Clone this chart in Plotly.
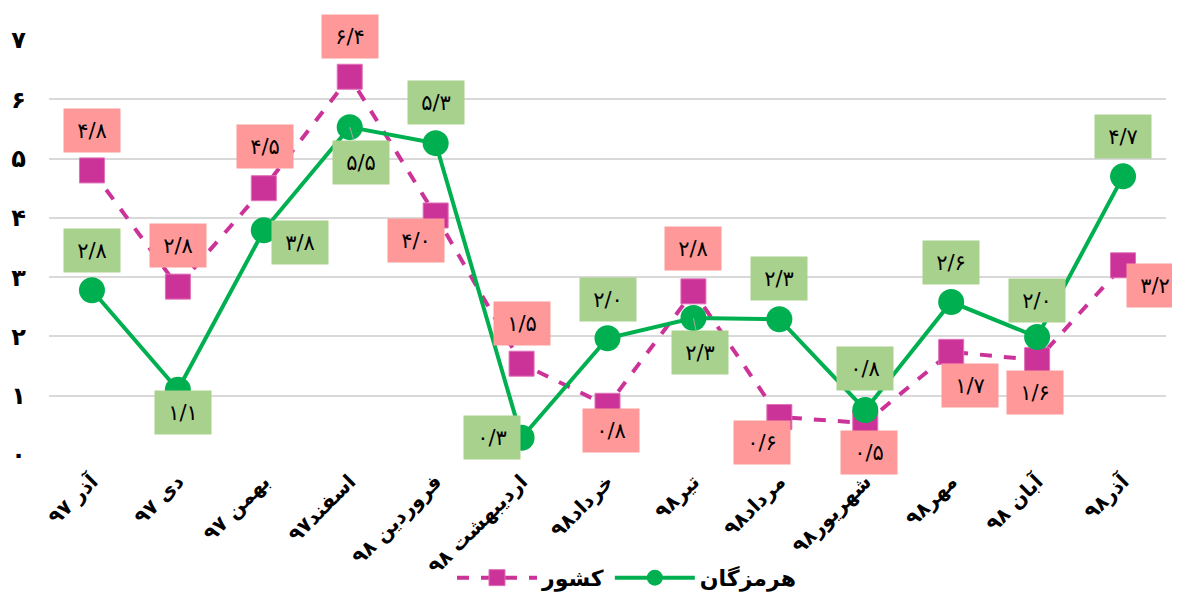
import plotly.graph_objects as go

categories = ["آذر ۹۷", "دی ۹۷", "بهمن ۹۷", "اسفند۹۷", "فروردین ۹۸", "اردیبهشت ۹۸",
              "خرداد۹۸", "تیر۹۸", "مرداد۹۸", "شهریور۹۸", "مهر۹۸", "آبان ۹۸", "آذر۹۸"]
keshvar = [4.8, 2.84, 4.5, 6.38, 4.04, 1.54, 0.83, 2.76, 0.64, 0.54, 1.74, 1.6, 3.2]
hormozgan = [2.78, 1.1, 3.79, 5.53, 5.26, 0.29, 1.97, 2.31, 2.29, 0.76, 2.58, 1.99, 4.7]
ytick_vals = [0, 1, 2, 3, 4, 5, 6, 7]

FA = str.maketrans("0123456789", "۰۱۲۳۴۵۶۷۸۹")


def fa(v, dec=True):
    s = f"{v:.1f}" if dec else f"{v:d}"
    return s.replace(".", "/").translate(FA)


# label offsets (px): (dx, dy) with dy positive = downward
off_k = [(0, -40), (0, -41), (1, -42), (0, -40), (-20, 25), (0, -40), (3, 25),
         (0, -43), (-17, 25), (4, 30), (19, 34), (-2, 32), (32, 20)]
off_h = [(0, -40), (5, 23), (36, 12), (11, 35), (0, -41), (-30, 0), (0, -39),
         (7, 34), (0, -41), (0, -41), (0, -40), (0, -37), (0, -40)]
leader_h = {3, 7}

MAG = "#CC3399"
GRN = "#00B050"
PINK = "#FF9999"
LGRN = "#A9D18E"
FONT = "DejaVu Sans"
LBL = dict(family=FONT, size=21, color="black")

fig = go.Figure()
fig.add_trace(go.Scatter(
    x=categories, y=keshvar, name="کشور", mode="lines+markers",
    line=dict(color=MAG, width=4, dash="dash"),
    marker=dict(symbol="square", size=25, color=MAG, line=dict(color="#E070B8", width=1)),
    cliponaxis=False,
))
fig.add_trace(go.Scatter(
    x=categories, y=hormozgan, name="هرمزگان", mode="lines+markers",
    line=dict(color=GRN, width=4),
    marker=dict(symbol="circle", size=26, color=GRN),
    cliponaxis=False,
))

ann = []
for i, c in enumerate(categories):
    dx, dy = off_k[i]
    ann.append(dict(x=c, y=keshvar[i], text=fa(keshvar[i]), showarrow=False,
                    xshift=dx, yshift=-dy, bgcolor=PINK, width=54, height=41, font=LBL))
    dx, dy = off_h[i]
    if i in leader_h:
        ann.append(dict(x=c, y=hormozgan[i], text=fa(hormozgan[i]), showarrow=True,
                        arrowhead=0, arrowwidth=1, arrowcolor="#A6A6A6",
                        ax=dx, ay=dy, bgcolor=LGRN, width=54, height=41, font=LBL))
    else:
        ann.append(dict(x=c, y=hormozgan[i], text=fa(hormozgan[i]), showarrow=False,
                        xshift=dx, yshift=-dy, bgcolor=LGRN, width=54, height=41, font=LBL))

fig.update_layout(
    width=1180, height=594,
    margin=dict(l=41, r=22, t=32, b=147, autoexpand=False),
    paper_bgcolor="white", plot_bgcolor="white",
    annotations=ann,
    showlegend=True,
    legend=dict(orientation="h", x=0.517, xanchor="center", y=-0.296, yanchor="middle",
                font=dict(family=FONT, size=22, color="black", weight="bold"),
                itemwidth=80, bgcolor="rgba(0,0,0,0)"),
    font=dict(family=FONT),
)
fig.update_xaxes(type="category", range=[-0.5, 12.5], showgrid=False, showline=False,
                 zeroline=False, tickangle=-45, ticks="", automargin=False,
                 ticklabelstandoff=10,
                 tickfont=dict(family=FONT, size=20, color="black", weight="bold"))
fig.update_yaxes(range=[0, 7], tickvals=ytick_vals, ticktext=[fa(v, False) for v in ytick_vals],
                 showgrid=True, gridcolor="#D9D9D9", gridwidth=2, zeroline=False,
                 showline=False, ticks="", ticklabelstandoff=22, automargin=False,
                 tickfont=dict(family=FONT, size=24, color="black", weight="bold"))

fig.write_html("out.html")
